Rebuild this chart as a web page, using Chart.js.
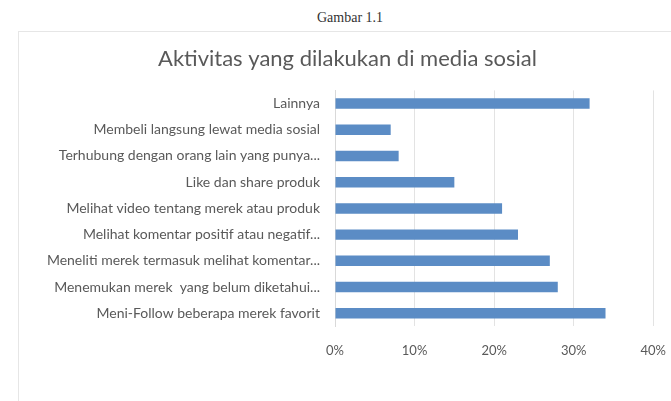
<!DOCTYPE html>
<html>
<head>
<meta charset="utf-8">
<script src="https://cdn.jsdelivr.net/npm/chart.js@4"></script>
<style>
    html, body { margin: 0; padding: 0; background: #fff; overflow: hidden; }
    body { width: 671px; height: 401px; position: relative; }
    #caption {
        position: absolute; left: 0; top: 10px; width: 700px; text-align: center;
        font-family: "Liberation Serif", serif; font-size: 14px; color: #333;
    }
    #frame {
        position: absolute; left: 18px; top: 31px; width: 700px; height: 420px;
        border: 1px solid #e6e6e6; box-sizing: border-box;
    }
    #wrap { position: absolute; left: 18px; top: 31px; width: 665px; height: 370px; }
</style>
</head>
<body>
<div id="caption">Gambar 1.1</div>
<div id="frame"></div>
<div id="wrap"><canvas id="chart"></canvas></div>
<script>
// Data
const categories = [
    "Lainnya",
    "Membeli langsung lewat media sosial",
    "Terhubung dengan orang lain yang punya...",
    "Like dan share produk",
    "Melihat video tentang merek atau produk",
    "Melihat komentar positif atau negatif...",
    "Meneliti merek termasuk melihat komentar...",
    "Menemukan merek  yang belum diketahui...",
    "Meni-Follow beberapa merek favorit"
];
const percentages = [32, 7, 8, 15, 21, 23, 27, 28, 34];
const tickValues = [0, 10, 20, 30, 40];

document.addEventListener("DOMContentLoaded", function () {
    const ctx = document.getElementById("chart").getContext("2d");

    new Chart(ctx, {
        type: "bar",
        data: {
            labels: categories,
            datasets: [{
                label: "Aktivitas",
                data: percentages,
                backgroundColor: "#5b8cc5",
                categoryPercentage: 0.5,
                barPercentage: 0.8
            }]
        },
        options: {
            indexAxis: "y",
            responsive: true,
            maintainAspectRatio: false,
            animation: false,
            layout: { padding: { left: 0, right: 6, top: 0, bottom: 25 } },
            scales: {
                x: {
                    min: 0,
                    max: 40,
                    afterBuildTicks: (axis) => { axis.ticks = tickValues.map(v => ({ value: v })); },
                    ticks: {
                        padding: 17,
                        color: "#595959",
                        font: { family: "Lato", size: 13 },
                        callback: (v) => v + "%"
                    },
                    grid: { color: "#e3e3e3", drawTicks: false },
                    border: { display: false }
                },
                y: {
                    afterFit: (axis) => { axis.width = 317; },
                    ticks: {
                        padding: 7,
                        color: "#595959",
                        font: { family: "Lato", size: 14 }
                    },
                    grid: { display: false },
                    border: { color: "#d9d9d9" }
                }
            },
            plugins: {
                legend: { display: false },
                tooltip: { enabled: false },
                title: {
                    display: true,
                    text: "Aktivitas yang dilakukan di media sosial",
                    color: "#595959",
                    font: { family: "Lato", size: 22, weight: "normal" },
                    padding: { top: 15, bottom: 18 }
                }
            }
        }
    });
});
</script>
</body>
</html>
